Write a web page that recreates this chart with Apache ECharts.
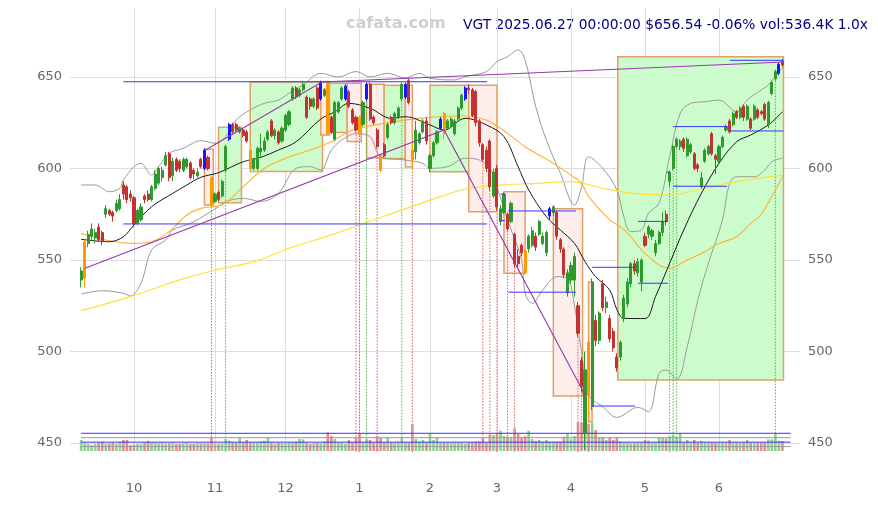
<!DOCTYPE html>
<html><head><meta charset="utf-8">
<script src="https://cdn.jsdelivr.net/npm/echarts@6/dist/echarts.min.js"></script>
<style>html,body{margin:0;padding:0;background:#fff}#c{width:878px;height:505px}</style>
</head><body><div id="c"></div>
<script>
// ---- categories: trading days 2024-09-10 .. 2025-06-27 ----
const holidays = ['2024-11-28','2024-12-25','2025-01-01','2025-01-09','2025-01-20','2025-02-17','2025-04-18','2025-05-26','2025-06-19'];
const dates = [];
for (let d = new Date(Date.UTC(2024,8,10)); d <= new Date(Date.UTC(2025,5,27)); d.setUTCDate(d.getUTCDate()+1)) {
  const wd = d.getUTCDay(); if (wd === 0 || wd === 6) continue;
  const s = d.toISOString().slice(0,10); if (holidays.includes(s)) continue;
  dates.push(s);
}
const monthStarts = [];
for (let i = 1; i < dates.length; i++) if (dates[i].slice(5,7) !== dates[i-1].slice(5,7)) monthStarts.push(i);

// ---- OHLC [open, close, low, high] ----
const ohlc = [
[539,544,535,546],[540,560,535,561],[559,564,557,566],[563,567,561,570],[562,565,559,567],[568,561,560,570],[565,560,558,566],[575,578,573,580],[577,575,574,578],[576,574,571,577],
[577,581,576,583],[578,583,577,586],[591,586,583,593],[590,583,581,591],[586,584,582,588],[584,570,568,585],[570,577,569,578],[572,579,571,581],[585,583,581,586],[586,583,582,588],
[583,590,582,591],[589,597,588,599],[592,600,591,601],[595,599,593,601],[602,607,601,609],[608,595,593,609],[596,604,593,606],[605,599,598,606],[604,600,598,605],[599,605,598,606],
[601,605,600,606],[603,595,594,604],[599,597,594,600],[596,598,595,600],[605,601,600,606],[600,610,599,611],[606,600,599,607],[595,580,579,596],[582,586,581,587],[587,583,582,588],
[585,593,584,594],[599,612,598,613],[616,624,615,625],[624,620,619,625],[624,621,620,625],[620,622,619,623],[621,618,617,622],[620,615,614,621],[610,600,599,611],[600,605,599,606],
[600,611,599,612],[609,611,606,619],[610,615,609,617],[616,620,615,621],[626,618,617,627],[618,621,616,622],[620,614,613,621],[615,622,614,623],[621,629,620,630],[624,631,623,632],
[638,644,637,645],[644,639,638,645],[640,643,639,644],[643,646,642,647],[639,628,627,640],[638,634,632,639],[634,638,633,639],[644,633,632,645],[638,647,637,648],[640,643,639,644],
[647,619,618,648],[628,620,619,629],[616,636,615,637],[631,636,630,637],[638,644,637,645],[638,645,637,646],[642,634,633,643],[632,625,624,633],[628,621,620,629],[628,619,618,629],
[624,636,623,637],[638,646,637,647],[646,627,626,647],[628,625,624,629],[621,612,611,622],[607,599,598,608],[613,607,606,614],[617,624,616,625],[628,625,624,629],[625,630,624,631],
[628,633,627,634],[638,646,637,647],[639,646,638,647],[648,636,635,649],[610,605,600,615],[609,621,605,626],[614,619,613,620],[620,626,619,627],[626,615,613,628],[600,607,598,608],
[607,614,606,615],[614,620,613,621],[622,627,621,628],[630,619,616,631],[622,626,621,627],[623,627,622,628],[619,626,618,627],[627,633,626,634],[633,640,632,641],[638,644,637,645],
[644,643,641,646],[643,629,628,644],[642,625,623,643],[626,614,612,627],[613,605,604,614],[610,600,598,612],[615,590,588,616],[585,598,584,600],[600,579,577,602],[571,578,569,580],
[576,586,575,587],[575,567,566,576],[571,581,570,582],[564,548,546,565],[552,548,546,556],[558,554,552,559],[555,543,542,556],[556,563,554,564],[558,566,557,568],[563,557,555,565],
[564,571,563,572],[559,563,558,565],[554,565,552,566],[574,578,572,579],[576,579,574,580],[576,563,561,577],[561,556,554,562],[556,542,540,557],[532,543,530,545],[539,547,537,549],
[539,552,530,554],[525,510,508,527],[495,481,478,497],[455,490,446,500],[505,476,462,507],[470,538,468,540],[517,506,503,520],[506,521,504,522],[537,524,522,539],[524,527,521,530],
[518,507,505,520],[511,502,500,513],[497,491,489,499],[497,505,495,506],[518,529,516,531],[526,538,524,540],[537,548,535,549],[548,544,542,550],[543,549,541,551],[538,550,533,551],
[563,558,557,565],[564,568,562,569],[563,566,561,567],[554,559,552,561],[559,565,558,566],[565,571,563,576],[575,571,569,577],[593,598,590,599],[600,612,599,613],[612,616,611,617],
[612,615,610,616],[616,611,609,617],[607,616,606,617],[609,613,608,614],[608,600,599,609],[602,600,598,603],[590,595,589,598],[604,610,603,611],[608,612,607,613],[619,608,607,620],
[607,605,597,608],[604,612,603,613],[612,617,611,618],[621,623,620,624],[626,620,619,627],[624,630,623,631],[631,628,627,632],[628,633,627,634],[634,628,626,635],[627,634,626,635],
[627,622,621,628],[627,634,626,635],[632,628,627,633],[631,630,629,632],[635,627,626,636],[624,636,622,637],[641,647,640,648],[649,653,648,654],[652,657,651,658],[658.5,656.54,655.5,660]
];

// ---- volume (thousands) ----
const volume = [
590,450,380,320,380,450,500,370,400,450,375,500,590,590,322,
350,380,375,450,545,450,430,411,447,375,411,447,375,380,411,447,375,375,411,411,420,411,725,
411,375,411,643,545,447,447,725,447,590,447,447,447,500,545,725,447,375,447,411,
411,447,447,500,643,620,447,375,411,430,411,500,1000,800,643,447,447,375,590,447,725,
945,447,643,590,447,800,725,447,725,447,447,500,768,447,447,1447,643,500,590,447,
911,590,725,447,447,447,447,447,447,447,375,447,447,500,500,725,447,857,857,
911,1090,800,768,700,1215,911,725,800,1090,643,545,590,500,590,500,500,500,500,768,911,
625,800,1536,1536,1600,1450,1536,1125,725,725,590,725,590,725,500,447,447,411,411,447,447,
590,555,447,447,725,725,680,800,857,768,945,447,590,447,590,447,545,447,447,447,447,
447,447,447,590,447,447,447,447,590,447,447,447,447,447,625,625,945,545,536
];
const volumeLevels = [237, 475, 712, 949];
const volumeLevelColors = ['#999999', '#3333ff', '#999999', '#3333ff'];

// highlighted candles
const orangeCandles = [1,37,48,70,79,85,94,103,126,144];
const blueCandles = [35,42,68,75,81,92,102,109,133,198];

// signal dotted lines (candle index)
const redSignals = [37,78,79,84,94,114,116,118,121,123,141,142,144];
const greenSignals = [41,81,91,167,168,169,197];

// boxes [startIdx, endIdx, top, bottom, kind]
const boxes = [
[35,37.5,610.5,580,'p'],[39,45.5,622.5,581.3,'g'],[48,68.5,647.2,598.4,'g'],[68,70.5,647.2,618.3,'p'],
[70.5,75.5,646.6,619.6,'g'],[75.5,79.5,646.6,614.7,'p'],[81,86,646,605.9,'p'],[86,92,645.5,605.4,'g'],
[92,94,645.5,600.8,'p'],[99,110,645.5,598.2,'g'],[110,118,645.5,576.3,'p'],[120,126,587.3,542.8,'p'],
[134,142.3,578,475.7,'p'],[144,145,538,461.8,'p'],[152.3,199.3,661,484.4,'g']
];

// horizontal level lines [startIdx, endIdx, price]
const levels = [
[12,115.2,647.4],[12,115.2,569.7],[121.2,140.4,576.8],[121.2,140.4,532.4],[145,157.2,546],[145,157.2,470.2],
[158,166.5,571.1],[158,166.5,537.3],[168,183.3,622.9],[168,183.3,590.3],[184.1,199.3,659.1],[184.1,199.3,620.5],
[119,120.3,586],[119,120.3,571.5],[166.2,167,598]
];

// trend lines (polyline vertices [idx, price])
const trend1 = [[1.1,545.5],[103,621],[143,476.2]];
const trend2 = [[35.2,610],[68.3,647.3],[199.3,658.2]];

// moving averages / bands sampled [idx, price]
const maBlack = [[0,561.3],[8,560],[12,562.7],[15,569.1],[20,579.1],[26,586.4],[30,591],[34,595.2],[39,597.7],[46,603.7],[51,606.1],[56,610.1],[61,614.6],[68,627],[72,631],[76,635.6],[82,632.9],[88,627.4],[92,628.3],[99,623.8],[103,621],[109,627.4],[115,623.8],[120,617.4],[124,601],[127,588.3],[132,573.7],[136,566.4],[140,559.1],[143,549.1],[146,540.9],[150,533.6],[152,523],[154,518.1],[160,518],[163,530],[167,548.2],[171,566.4],[176,586.4],[181,602.8],[186,614.6],[190,618.3],[195,623.8],[199,631]];
const maOrange = [[0,564.6],[8,560.5],[15,559.1],[20,560],[25,565.5],[30,574.6],[34,578.2],[39,579.5],[41,581.3],[46,590],[52,600.1],[58,605.6],[65,610.1],[71,614.6],[77,621],[87,625],[96,627.4],[108,628.7],[115,626.5],[121,619.2],[126,611.9],[134,602.8],[139,596.4],[142,591.9],[144,584.6],[150,571.9],[153,568.2],[156,562.7],[159,555.5],[164,547.3],[167,545.5],[172,550],[177,554.5],[181,559.1],[186,562.7],[190,570],[193,575],[197,588.3],[199,595.5]];
const maYellow = [[0,522.3],[14,530],[28,539.1],[37,544],[49,549.1],[59,556.4],[71,563.7],[87,574.6],[102,584.6],[110,589.2],[120,591],[129,591.9],[139,592.8],[148,589.2],[158,586.1],[167,585.5],[177,589.2],[186,592.8],[199,596.4]];
const bandUpper = [[0,591],[4,591],[8,587.3],[11,589.2],[12,593.7],[15,601],[17,602.8],[20,596.4],[22,601],[25,608.3],[29,611],[34,615.2],[38,613.8],[41,617.4],[44,626.5],[48,632],[52,635.6],[56,637.4],[59,641.1],[63,645.6],[68,652],[73,650],[78,653],[82,650],[87,652],[92,649.5],[96,652],[99,649.3],[106,648.4],[109,650.2],[115,652.9],[118,658.4],[121,661.1],[124,664.8],[126,659.3],[129,633.8],[132,615.6],[136,597.4],[140,580],[142,590],[144,606.4],[148,600.1],[152,588.3],[154,573.7],[156,565.5],[159,566.4],[161,575.5],[164,581],[167,606.4],[170,630.2],[173,635.6],[177,636.5],[181,637.4],[186,631],[189,637.4],[193,642.9],[195,645.6],[198,652.9],[199,655]];
const bandLower = [[0,531.4],[6,533.2],[12,531.8],[14,530.3],[17,537.3],[20,555.5],[24,560.9],[26,566.4],[31,570],[36,575.5],[39,579.1],[41,581.9],[46,583.7],[51,582],[56,586.4],[61,600.1],[65,601],[68,599.2],[71,610.1],[74,615.6],[78,619],[82,617.4],[85,606.4],[92,604.6],[97,602.8],[99,600.1],[104,601],[109,605.6],[113,604.6],[116,600.1],[118,590],[121,572],[125,550],[126,531.8],[128,526.3],[131,533.6],[135,540.9],[138,540],[140,525],[142,500],[144,476.2],[148,469.9],[152,464],[158,469.5],[161,467.1],[164,488],[166,489.9],[169,484.8],[172,502.6],[175,528.1],[178,548.2],[182,571.9],[184,591.9],[186,595.5],[191,595.5],[194,599.2],[196,603.7],[199,605.6]];

const yTickMin = 450, yTickMax = 650, yTickStep = 50;
const titleText = 'VGT 2025.06.27 00:00:00 $656.54 -0.06% vol:536.4K 1.0x';
const watermark = 'cafata.com';

// ---- chart ----
const GREEN = '#2e9a2e', RED = '#c33131';
const Y_MIN = 445.08, Y_MAX = 687.7;
const chart = echarts.init(document.getElementById('c'), null, {renderer: 'canvas'});

function xAt(api, xi, p) {
  const a = api.coord([0, p]), b = api.coord([1, p]);
  return a[0] + xi * (b[0] - a[0]);
}
const lineSeries = (data, color, width, z) => ({
  type: 'line', xAxisIndex: 0, yAxisIndex: 0, data, smooth: 0.35, symbol: 'none', silent: true,
  lineStyle: {color, width}, z
});
const special = {};
orangeCandles.forEach(i => special[i] = '#ff9900');
blueCandles.forEach(i => special[i] = '#1515ff');

const priceAxis = (pos, showSplit) => ({
  type: 'value', gridIndex: 1, min: yTickMin, max: yTickMax, interval: yTickStep, position: pos,
  axisLine: {show: false}, axisTick: {show: false},
  axisLabel: {color: '#666', fontSize: 13, margin: 8, fontFamily: 'DejaVu Sans'},
  splitLine: {show: showSplit, lineStyle: {color: '#dddddd', width: 1}}
});

const option = {
  animation: false,
  backgroundColor: '#ffffff',
  textStyle: {fontFamily: 'DejaVu Sans'},
  graphic: [
    {type: 'text', left: 346, top: 16, style: {text: watermark, font: 'bold 16px "DejaVu Sans"', fill: '#cfcfcf'}},
    {type: 'text', left: 463, top: 18, style: {text: titleText, font: '13.8px "DejaVu Sans"', fill: '#000080'}}
  ],
  grid: [
    {left: 81.1, right: 95.6, top: 8, bottom: 53},
    {left: 70, right: 78, top: 77, bottom: 62},
    {left: 81.1, right: 95.6, top: 414, bottom: 54}
  ],
  xAxis: [
    {type: 'category', gridIndex: 0, data: dates, boundaryGap: false,
     axisLine: {show: false}, axisTick: {show: false},
     axisLabel: {interval: (i) => monthStarts.includes(i), formatter: v => String(Number(v.slice(5,7))),
                 color: '#666', fontSize: 13, margin: 30, fontFamily: 'DejaVu Sans'},
     splitLine: {show: true, interval: (i) => monthStarts.includes(i), lineStyle: {color: '#dddddd', width: 1}}},
    {type: 'value', gridIndex: 1, show: false, min: 0, max: 1},
    {type: 'category', gridIndex: 2, data: dates, boundaryGap: false, show: false}
  ],
  yAxis: [
    {type: 'value', gridIndex: 0, min: Y_MIN, max: Y_MAX, show: false, splitLine: {show: false}},
    priceAxis('left', true),
    {type: 'value', gridIndex: 2, min: 0, max: 1983, show: false, splitLine: {show: false}},
    priceAxis('right', false)
  ],
  series: [
    // boxes
    {type: 'custom', xAxisIndex: 0, yAxisIndex: 0, z: 1, silent: true,
     data: boxes.map(b => [Math.round(b[0]), b[2]]),
     renderItem: (params, api) => {
       const b = boxes[params.dataIndex];
       const x0 = xAt(api, b[0], b[2]), x1 = xAt(api, b[1], b[2]);
       const y0 = api.coord([0, b[2]])[1], y1 = api.coord([0, b[3]])[1];
       return {type: 'rect', shape: {x: x0, y: y0, width: x1 - x0, height: y1 - y0},
               style: {fill: b[4] === 'g' ? '#ccfccc' : '#fdeeec', stroke: '#e3a066', lineWidth: 1.5}};
     }},
    // signal dotted lines
    {type: 'custom', xAxisIndex: 0, yAxisIndex: 0, z: 2, silent: true,
     data: redSignals.map(i => [i, ohlc[i][2], 0]).concat(greenSignals.map(i => [i, ohlc[i][2], 1])),
     renderItem: (params, api) => {
       const i = api.value(0), low = api.value(1), g = api.value(2);
       const p0 = api.coord([i, low]), p1 = api.coord([i, Y_MIN]);
       return {type: 'line', shape: {x1: p0[0], y1: p0[1], x2: p1[0], y2: p1[1]},
               style: {stroke: g ? '#55b055' : '#d86060', lineWidth: 1, lineDash: [1.5, 1.5]}};
     }},
    lineSeries(bandUpper, '#9a9a9a', 1, 3),
    lineSeries(bandLower, '#9a9a9a', 1, 3),
    lineSeries(maYellow, '#ffdf3a', 1.2, 3),
    lineSeries(maOrange, '#ffb030', 1.1, 3),
    lineSeries(maBlack, '#1a1a1a', 1, 3),
    // candles
    {type: 'candlestick', xAxisIndex: 0, yAxisIndex: 0, z: 4, barWidth: 2.6, clip: false, silent: true,
     itemStyle: {color: GREEN, color0: RED, borderColor: GREEN, borderColor0: RED, borderWidth: 1},
     data: ohlc.map((d, i) => special[i] ? {value: d, itemStyle: {color: special[i], color0: special[i], borderColor: special[i], borderColor0: special[i]}} : d)},
    // level lines
    {type: 'custom', xAxisIndex: 0, yAxisIndex: 0, z: 5, silent: true,
     data: levels.map(l => [Math.round(l[0]), l[2]]),
     renderItem: (params, api) => {
       const l = levels[params.dataIndex];
       const x0 = xAt(api, l[0], l[2]), x1 = xAt(api, l[1], l[2]), y = api.coord([0, l[2]])[1];
       return {type: 'line', shape: {x1: x0, y1: y, x2: x1, y2: y}, style: {stroke: '#3535ff', lineWidth: 1}};
     }},
    // trend lines
    {type: 'custom', xAxisIndex: 0, yAxisIndex: 0, z: 5, silent: true,
     data: [[1, 545], [35, 610]],
     renderItem: (params, api) => {
       const t = params.dataIndex === 0 ? trend1 : trend2;
       const pts = t.map(p => [xAt(api, p[0], p[1]), api.coord([0, p[1]])[1]]);
       return {type: 'polyline', shape: {points: pts}, style: {stroke: '#9a35ad', lineWidth: 1.1, fill: null}};
     }},
    // volume
    {type: 'bar', xAxisIndex: 2, yAxisIndex: 2, barWidth: 2.6, silent: true, z: 2,
     data: volume.map((v, i) => ({value: v, itemStyle: {color: ohlc[i][1] >= ohlc[i][0] ? '#8fcf8f' : '#de9090'}}))},
    {type: 'custom', xAxisIndex: 2, yAxisIndex: 2, z: 3, silent: true,
     data: volumeLevels.map(v => [0, v]),
     renderItem: (params, api) => {
       const v = volumeLevels[params.dataIndex];
       const a = api.coord([0, v]), b = api.coord([1, v]);
       const step = b[0] - a[0];
       return {type: 'line', shape: {x1: a[0], y1: a[1], x2: a[0] + 201.3 * step, y2: a[1]},
               style: {stroke: volumeLevelColors[params.dataIndex], lineWidth: 1}};
     }}
  ]
};
chart.setOption(option);
</script>
</body></html>
